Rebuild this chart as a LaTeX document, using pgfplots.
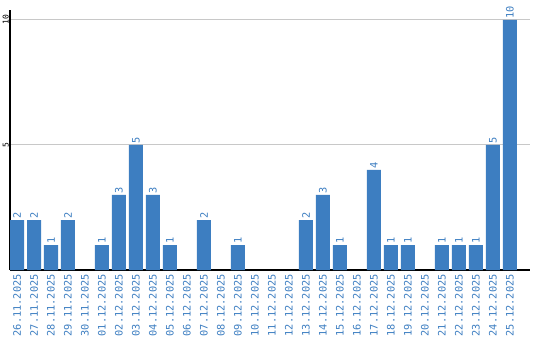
\documentclass[border=0pt]{standalone}
\usepackage{pgfplots}
\pgfplotsset{compat=1.18}
\usepackage{fontspec}
\setmainfont{DejaVu Sans Mono}
\definecolor{barblue}{RGB}{61,126,193}
\definecolor{gridgray}{RGB}{200,200,200}
\begin{document}
\begin{tikzpicture}[x=1pt,y=1pt]
\path[use as bounding box] (0,0) rectangle (540,340);
\begin{axis}[
  at={(10pt,70pt)}, anchor=south west,
  scale only axis, width=520pt, height=260pt,
  xmin=-0.412, xmax=30.18, ymin=0, ymax=10.4,
  axis x line=bottom, axis y line=left,
  axis line style={-, black, line width=1.5pt},
  xtick={0,...,29},
  xticklabels={26.11.2025,27.11.2025,28.11.2025,29.11.2025,30.11.2025,01.12.2025,02.12.2025,03.12.2025,04.12.2025,05.12.2025,06.12.2025,07.12.2025,08.12.2025,09.12.2025,10.12.2025,11.12.2025,12.12.2025,13.12.2025,14.12.2025,15.12.2025,16.12.2025,17.12.2025,18.12.2025,19.12.2025,20.12.2025,21.12.2025,22.12.2025,23.12.2025,24.12.2025,25.12.2025},
  xticklabel style={rotate=90, anchor=east, font=\fontsize{10.3}{11}\selectfont, text=barblue, inner sep=0pt, xshift=-4pt},
  ytick={5,10},
  yticklabel style={rotate=90, anchor=south, font=\fontsize{8}{9}\selectfont, inner sep=1pt},
  /pgf/number format/assume math mode=true,
  major tick length=0pt,
  ymajorgrids, grid style={gridgray, line width=1pt},
  clip=false,
]
\addplot[ybar, bar width=14pt, fill=barblue, draw=none,
  nodes near coords,
  every node near coord/.append style={rotate=90, anchor=west, font=\fontsize{10.3}{11}\selectfont, text=barblue, inner sep=1pt}]
  coordinates {
  (0,2) (1,2) (2,1) (3,2) (5,1) (6,3) (7,5) (8,3) (9,1) (11,2) (13,1)
  (17,2) (18,3) (19,1) (21,4) (22,1) (23,1) (25,1) (26,1) (27,1) (28,5) (29,10)
  };
\end{axis}
\end{tikzpicture}
\end{document}
